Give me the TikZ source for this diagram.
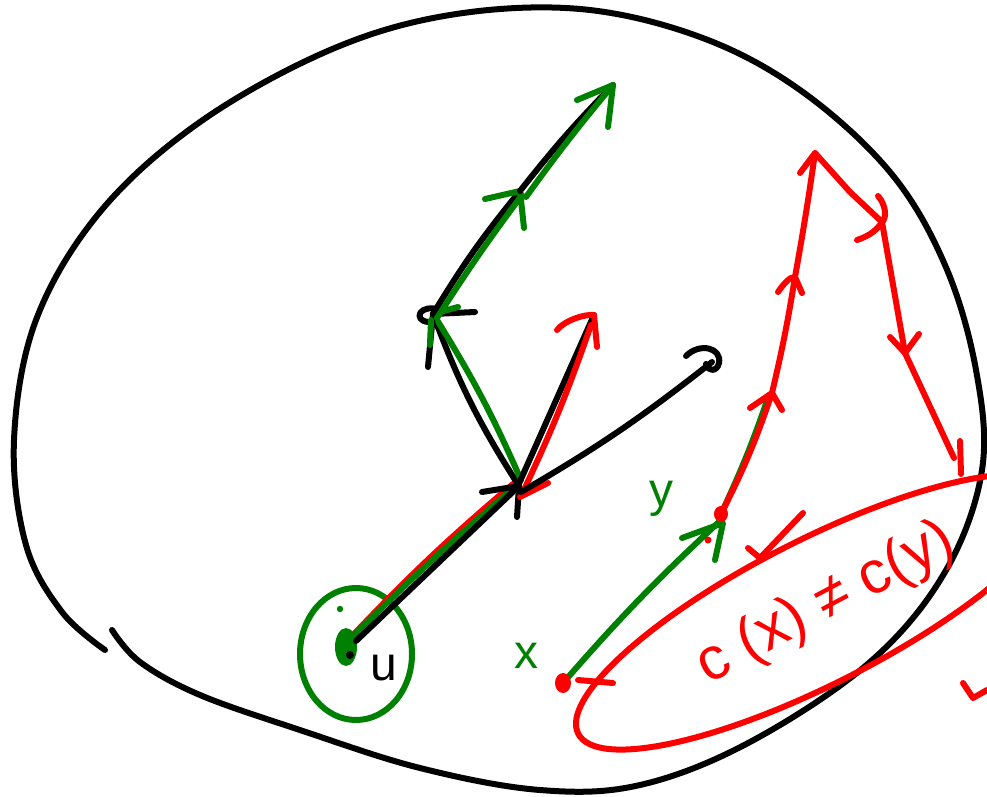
\documentclass[tikz,border=0pt]{standalone}
\usepackage{fontspec}
\setsansfont{Liberation Sans}
\usetikzlibrary{calc}
\definecolor{pgreen}{RGB}{0,128,0}
\definecolor{pred}{RGB}{255,0,0}
\begin{document}
\begin{tikzpicture}[x=1pt,y=-1pt,line cap=round,line join=round,
  ink/.style={line width=6pt},
  blk/.style={ink,draw=black},
  grn/.style={ink,draw=pgreen},
  rd/.style={ink,draw=pred},
  lbl/.style={font=\sffamily\fontsize{48}{52}\selectfont,inner sep=0pt}]
\useasboundingbox (0,0) rectangle (987,797);
% big outline
\draw[blk] plot[smooth,tension=0.6] coordinates {(112,630) (140,662) (200,695) (300,730) (420,768) (540,790) (640,785) (750,742) (870,662) (945,572) (982,470) (976,370) (945,265) (890,172) (800,90) (700,37) (580,9) (450,15) (330,50) (200,122) (100,212) (36,320) (14,440) (26,545) (62,612) (105,650)};
% key points
\coordinate (u) at (352,638);
\coordinate (hub) at (519,486);
\coordinate (p1) at (433,314);
\coordinate (p2) at (520,191);
\coordinate (p3) at (613,85);
\coordinate (r1) at (594,315);
\coordinate (q) at (712,362);
\coordinate (X) at (563,683);
\coordinate (Y) at (721,514);
\coordinate (a1) at (772,393);
\coordinate (a2) at (795,277);
\coordinate (a3) at (815,153);
\coordinate (a4) at (882,222);
\coordinate (a5) at (905,353);
\coordinate (a6) at (954,458);
% green circle around u
\draw[grn] (356,654) ellipse [x radius=56, y radius=66];
\fill[pgreen] (346,647) ellipse [x radius=11, y radius=19];
\fill[black] (350,655) circle (4);
\fill[pgreen] (340,609) circle (3.2);
\node[lbl,text=black] (ulabel) at (384,668) {u};
% u -> hub
\draw[rd] ($(u)+(2,-4)$) to[bend left=3] ($(hub)+(-6,-2)$);
\draw[grn] ($(u)+(0,-1)$) to[bend left=2] ($(hub)+(-3,0)$);
\draw[blk] ($(u)+(4,3)$) -- (hub);
\draw[blk] (482,492) -- (hub) -- (517,517);
% hub -> p1 -> p2 -> p3
\draw[blk] (hub) to[bend left=6] (p1);
\draw[grn] ($(hub)+(2,-6)$) to[bend right=4] ($(p1)+(4,6)$);
\draw[blk] (p1) -- (475,312);
\draw[blk] (p1) -- (428,367);
\draw[blk] (440,310) .. controls (420,303) and (412,320) .. (428,322);
\draw[grn] (p1) -- (458,307);
\draw[grn] ($(p1)+(-2,6)$) -- (430,345);
\draw[blk] (p1) to[bend left=4] (p2);
\draw[grn] ($(p1)+(4,4)$) to[bend left=2] ($(p2)+(2,4)$);
\draw[grn] (485,199) -- (p2) -- (524,228);
\draw[blk] (p2) to[bend left=3] (p3);
\draw[grn] ($(p2)+(6,6)$) to[bend left=2] (p3);
\draw[grn] (577,100) -- (p3) -- (608,127);
% hub -> r1
\draw[blk] ($(hub)+(-2,2)$) -- (r1);
\draw[rd] ($(hub)+(3,8)$) to[bend right=3] ($(r1)+(-3,10)$);
\draw[rd] (557,330) .. controls (565,320) and (585,314) .. (r1) -- (597,347);
\draw[rd] (520,497) -- (548,483);
% hub -> q with curl
\draw[blk] ($(hub)+(2,6)$) to[bend right=4] (q);
\draw[blk] (686,356) .. controls (700,342) and (722,348) .. (719,363) .. controls (717,372) and (708,372) .. (706,364);
% x, y labels
\node[lbl,text=pgreen] (xlabel) at (526,656) {x};
\node[lbl,text=pgreen] (ylabel) at (661,499) {y};
% green path x -> y -> a1
\draw[grn] (X) to[bend left=3] ($(Y)+(0,6)$);
\draw[grn] (682,538) -- ($(Y)+(2,9)$) -- (715,560);
\draw[grn] (Y) to[bend right=3] ($(a1)+(-3,2)$);
% red cycle path
\draw[rd] (Y) to[bend right=4] (a1) to[bend right=2] (a2) to[bend right=1] (a3) -- (850,192) -- (a4) -- (a5) -- (a6);
\draw[rd] (750,408) -- (a1) -- (782,410);
\draw[rd] (778,292) .. controls (785,282) and (790,277) .. (a2) -- (802,293);
\draw[rd] (800,173) -- (a3);
\draw[rd] (878,196) .. controls (886,205) and (887,218) .. (a4) .. controls (876,232) and (866,237) .. (857,240);
\draw[rd] (890,337) -- (a5) -- (919,334);
\draw[rd] (960,441) -- (961,474);
% red dots
\fill[pred] (X) ellipse [x radius=8, y radius=10];
\fill[pred] (Y) ellipse [x radius=7, y radius=8];
\fill[pred] (708,540) circle (3.5);
% red ellipse with text
\draw[rd] (817,612) ellipse [rotate=27, x radius=268, y radius=72];
\draw[rd] (803,513) -- (760,558) -- (748,548);
\draw[rd] (578,680) -- (613,683);
\node[lbl,text=pred,rotate=28,font=\sffamily\fontsize{60}{64}\selectfont] (cxy) at (826,604) {c (x) ≠ c(y)};
\draw[rd] (963,683) -- (973,698) -- (987,690);
\end{tikzpicture}
\end{document}
